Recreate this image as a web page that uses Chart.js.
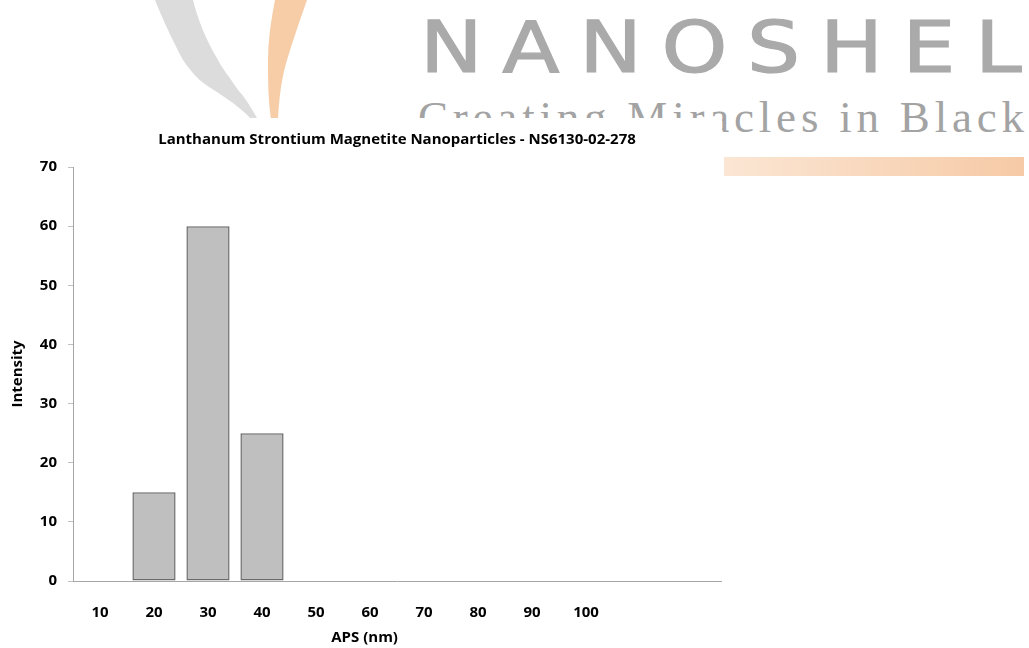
<!DOCTYPE html>
<html>
<head>
<meta charset="utf-8">
<script src="https://cdn.jsdelivr.net/npm/chart.js@4"></script>
<style>
  html, body { margin: 0; padding: 0; background: #fff; }
  body { width: 1029px; height: 648px; position: relative; overflow: hidden; }
  #mark { position: absolute; left: 0; top: 0; }
  #box { position: absolute; left: 0; top: 118px; width: 722px; height: 530px; background: #fff; }
</style>
</head>
<body>
<svg id="mark" width="1029" height="648">
  <defs>
    <linearGradient id="bar" x1="0" x2="1" y1="0" y2="0">
      <stop offset="0" stop-color="#fbe6d4"/>
      <stop offset="1" stop-color="#f6caa6"/>
    </linearGradient>
  </defs>
  <path d="M155,0 C165,25 175,45 183,60 C195,78 205,85 217,92 C232,102 243,110 252,120 L258,120 C250,105 243,95 238,90 C228,75 222,68 218,60 C206,40 198,20 193,0 Z" fill="#dcdcdc"/>
  <path d="M275,0 C271,20 268,40 268,60 C268,80 268,100 271,120 L278,120 C279,100 281,80 287,60 C293,40 300,20 307,0 Z" fill="#f7cda8"/>
  <text transform="translate(420,72) scale(1.18,1)" x="0" y="0" font-family="'DejaVu Sans', sans-serif" font-size="71" fill="#aaaaaa" stroke="#aaaaaa" stroke-width="1.2" textLength="510" lengthAdjust="spacing">NANOSHEL</text>
  <text x="418" y="132" font-family="'Liberation Serif', serif" font-size="45" fill="#a3a3a3" textLength="606" lengthAdjust="spacing">Creating Miracles in Black</text>
  <rect x="724" y="157" width="300" height="19" fill="url(#bar)"/>
</svg>
<div id="box"><canvas id="chart"></canvas></div>
<script>
const categories = ['10', '20', '30', '40', '50', '60', '70', '80', '90', '100', '', ''];
const intensity = [0, 15, 60, 25, 0, 0, 0, 0, 0, 0, 0, 0];
const yTicks = [0, 10, 20, 30, 40, 50, 60, 70];

const tickFont = { family: "'Open Sans', sans-serif", size: 15, weight: 'bold' };

// x axis title sits a little left of the plot centre, as in the original
const xTitle = {
    id: 'xTitle',
    afterDraw(chart) {
        const ctx = chart.ctx;
        const area = chart.chartArea;
        ctx.save();
        ctx.font = "bold 15px 'Open Sans', sans-serif";
        ctx.fillStyle = '#000';
        ctx.textAlign = 'center';
        ctx.textBaseline = 'middle';
        ctx.fillText('APS (nm)', area.left + (area.right - area.left) * 0.45, chart.height - 10);
        ctx.restore();
    }
};

new Chart(document.getElementById('chart').getContext('2d'), {
    type: 'bar',
    data: {
        labels: categories,
        datasets: [{
            label: 'Intensity',
            data: intensity,
            backgroundColor: '#bfbfbf',
            borderColor: '#6a6a6a',
            borderWidth: 1.5,
            borderSkipped: false,
            barPercentage: 0.8,
            categoryPercentage: 1
        }]
    },
    options: {
        responsive: true,
        maintainAspectRatio: false,
        animation: false,
        layout: { padding: { left: 0, right: 1, top: 0, bottom: 0 } },
        plugins: {
            legend: { display: false },
            tooltip: { enabled: false },
            title: {
                display: true,
                fullSize: false,
                text: 'Lanthanum Strontium Magnetite Nanoparticles - NS6130-02-278',
                color: '#000',
                font: { family: "'Open Sans', sans-serif", size: 15, weight: 'bold' },
                padding: { top: 13, bottom: 18 }
            }
        },
        scales: {
            x: {
                grid: { display: false, drawTicks: false },
                border: { display: true, color: '#a6a6a6' },
                ticks: { color: '#000', font: tickFont, padding: 23, maxRotation: 0, autoSkip: false },
                afterFit: function (scale) { scale.height = 67; }
            },
            y: {
                min: 0,
                max: 70,
                afterBuildTicks: function (scale) { scale.ticks = yTicks.map(v => ({ value: v })); },
                grid: { display: true, drawOnChartArea: false, drawTicks: true, tickLength: 5, color: '#bfbfbf' },
                border: { display: true, color: '#a6a6a6' },
                ticks: { color: '#000', font: tickFont, padding: 11 },
                title: {
                    display: true,
                    text: 'Intensity',
                    color: '#000',
                    font: { family: "'Open Sans', sans-serif", size: 15, weight: 'bold' },
                    padding: { top: 9, bottom: 0 }
                },
                afterFit: function (scale) { scale.width = 73; }
            }
        }
    },
    plugins: [xTitle]
});
</script>
</body>
</html>
